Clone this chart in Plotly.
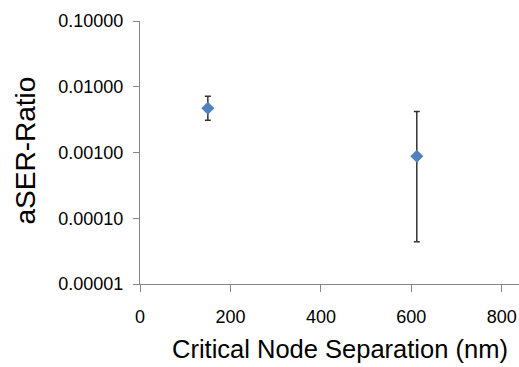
import plotly.graph_objects as go

separation_nm = [150, 612]
aser_ratio = [0.0047, 0.00088]
err_plus = [0.0072 - 0.0047, 0.0042 - 0.00088]
err_minus = [0.0047 - 0.0031, 0.00088 - 0.000044]

y_tickvals = [0.00001, 0.0001, 0.001, 0.01, 0.1]
y_ticktext = ["0.00001", "0.00010", "0.00100", "0.01000", "0.10000"]
x_tickvals = [0, 200, 400, 600, 800]

W, H = 519, 367
L, R, T, B = 140, 0, 21, 83
pw, ph = W - L - R, H - T - B


def px(xp):
    return (xp - L) / pw


def py(yp):
    return (H - B - yp) / ph


fam = "Liberation Sans, Arial, sans-serif"
axis_font = dict(family=fam, size=18, color="black")
title_font = dict(family=fam, size=25.5, color="black")
ytitle_font = dict(family=fam, size=28, color="black")

fig = go.Figure()
fig.add_trace(go.Scatter(
    x=separation_nm, y=aser_ratio, mode="markers",
    marker=dict(symbol="diamond", size=10, color="#4F81BD"),
    error_y=dict(type="data", symmetric=False, array=err_plus, arrayminus=err_minus,
                 color="#333333", thickness=1.5, width=3),
    showlegend=False,
))

fig.update_layout(
    width=W, height=H,
    margin=dict(l=L, r=R, t=T, b=B),
    paper_bgcolor="white", plot_bgcolor="white",
    font=axis_font,
    xaxis=dict(range=[0, 838], tickvals=x_tickvals, ticks="outside", ticklen=7,
               tickcolor="#868686", showline=True, linecolor="#868686", linewidth=1,
               showgrid=False, zeroline=False, tickfont=axis_font, ticklabelstandoff=9),
    yaxis=dict(type="log", range=[-5, -1], tickvals=y_tickvals, ticktext=y_ticktext,
               ticks="outside", ticklen=6, tickcolor="#868686", showline=True,
               linecolor="#868686", linewidth=1, showgrid=False, zeroline=False,
               tickfont=axis_font, ticklabelstandoff=6),
    annotations=[
        dict(text="Critical Node Separation (nm)", xref="paper", yref="paper",
             x=px(340), y=py(349), xanchor="center", yanchor="middle",
             showarrow=False, font=title_font),
        dict(text="aSER-Ratio", xref="paper", yref="paper", textangle=-90,
             x=px(25), y=py(150.5), xanchor="center", yanchor="middle",
             showarrow=False, font=ytitle_font),
    ],
)
fig.write_html("out.html")
